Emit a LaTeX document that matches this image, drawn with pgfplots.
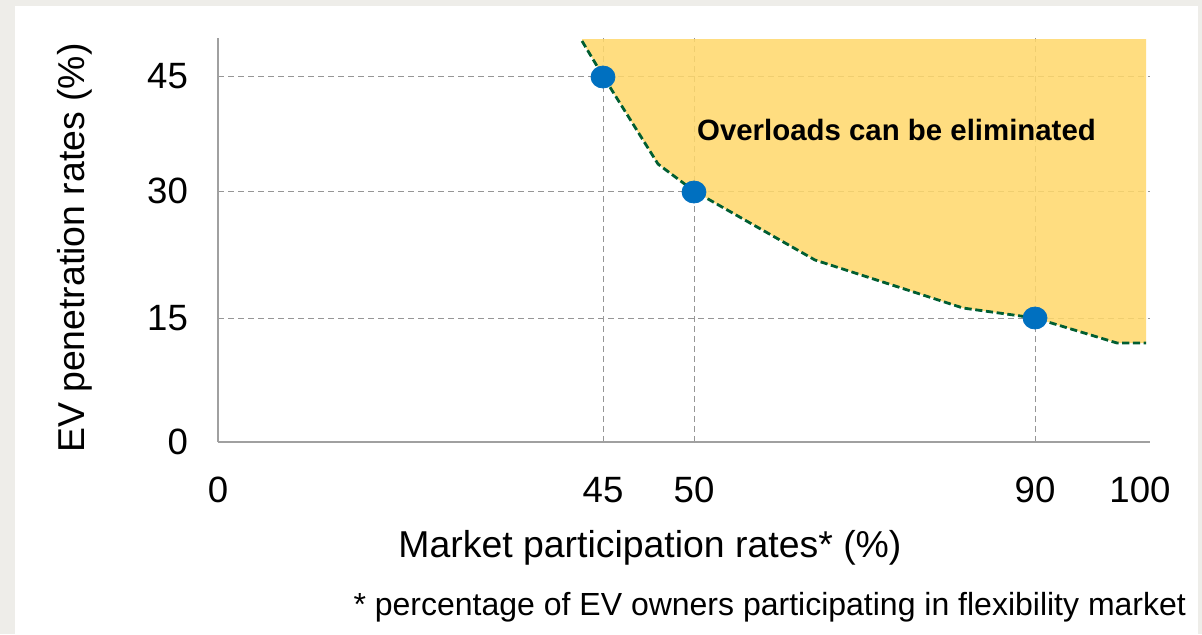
\documentclass[border=0pt]{standalone}
\usepackage{pgfplots}
\pgfplotsset{compat=1.18}
\usepackage{fontspec}
\setmainfont{Liberation Sans}
\definecolor{bggrey}{RGB}{238,237,233}
\definecolor{axisgrey}{RGB}{160,160,160}
\definecolor{gridgrey}{RGB}{150,150,150}
\definecolor{fillyellow}{RGB}{255,216,106}
\definecolor{curvegreen}{RGB}{0,94,50}
\definecolor{evblue}{RGB}{0,112,192}
\begin{document}
\begin{tikzpicture}
\fill[bggrey] (0,0) rectangle (601pt,-317pt);
\fill[white] (7.5pt,-3pt) rectangle (599pt,-317pt);
\begin{axis}[
  at={(109pt,-221pt)}, anchor=south west,
  width=466pt, height=202pt, scale only axis,
  xmin=218, xmax=1150, ymin=0, ymax=404,
  axis x line*=bottom, axis y line*=left,
  axis line style={draw=axisgrey, line width=0.75pt, -},
  xtick={603,694,1035},
  xticklabels={\raisebox{-0.5pt}{45},\raisebox{-0.5pt}{50},\raisebox{1.5pt}{90}},
  extra x ticks={218,1140},
  extra x tick labels={0,\raisebox{1.5pt}{100}},
  ytick={124,251,366}, yticklabels={15,30,45},
  extra y ticks={0}, extra y tick labels={0},
  extra tick style={grid=none, major tick length=0pt},
  major tick length=0pt,
  grid=major,
  major grid style={draw=gridgrey, line width=0.5pt, dash pattern=on 3pt off 2pt},
  tick label style={font=\fontsize{18.3}{22}\selectfont},
  xticklabel style={yshift=-14pt},
  yticklabel style={xshift=-11.5pt},
  ylabel={EV penetration rates (\%)},
  ylabel style={at={(axis description cs:-0.1534,0.480)}, anchor=center, font=\fontsize{18.7}{22}\selectfont},
  clip=false,
]
\addplot[fill=fillyellow, fill opacity=0.85, draw=none] coordinates {
  (582,401) (603,366) (658,278) (694,251) (815,182) (963,134) (1035,124) (1117,99) (1146,99) (1146,403) (582,403)
} -- cycle;
\addplot[curvegreen, line width=1.4pt, dash pattern=on 3.6pt off 1.8pt] coordinates {
  (582,401) (603,366) (658,278) (694,251) (815,182) (963,134) (1035,124) (1117,99) (1146,99)
};
\addplot[only marks, mark=*, mark size=5.5pt, color=evblue, mark options={xscale=1.09}] coordinates {
  (603,365) (694,250) (1035,124)
};
\node[font=\bfseries\fontsize{14.7}{17}\selectfont] at (axis cs:896.5,312) {Overloads can be eliminated};
\node[font=\fontsize{18.7}{22}\selectfont] at (axis description cs:0.4635,-0.262) {Market participation rates* (\%)};
\node[font=\fontsize{16}{19}\selectfont] at (axis description cs:0.592,-0.408) {* percentage of EV owners participating in flexibility market};
\end{axis}
\end{tikzpicture}
\end{document}
